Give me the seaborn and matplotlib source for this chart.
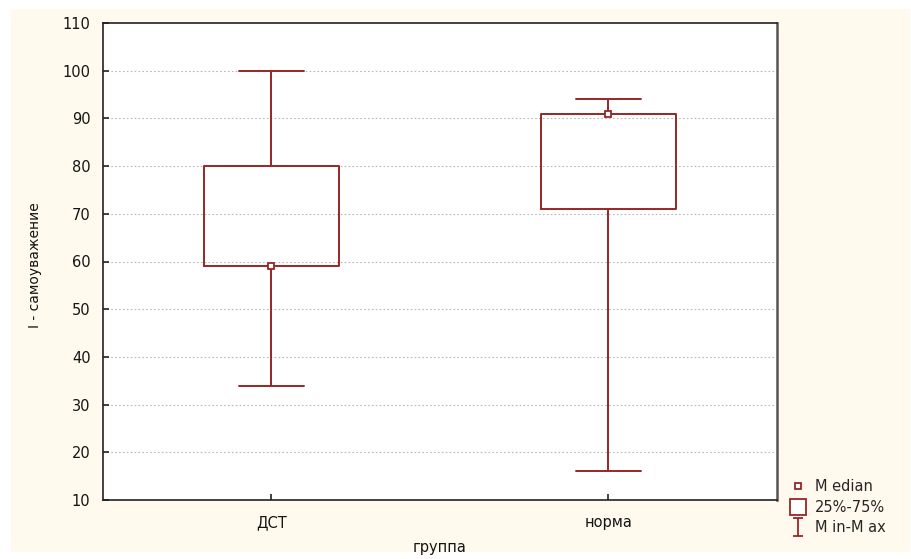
import matplotlib
matplotlib.use("Agg")
import matplotlib.pyplot as plt
import seaborn as sns
import pandas as pd
import numpy as np
from matplotlib.lines import Line2D
from matplotlib.patches import Rectangle
from matplotlib.path import Path

# Data: five-number summaries (min, q1, median, q3, max)
groups = ["ДСТ", "норма"]
dst_values = [34, 59, 59, 80, 100]
norma_values = [16, 71, 91, 91, 94]
y_ticks = [10, 20, 30, 40, 50, 60, 70, 80, 90, 100, 110]
legend_labels = ["M edian", "25%-75%", "M in-M ax"]

df = pd.DataFrame({
    "группа": [groups[0]] * len(dst_values) + [groups[1]] * len(norma_values),
    "value": dst_values + norma_values,
})

sns.set_style("white")
plt.rcParams["font.family"] = ["DejaVu Sans"]

RED = "#972626"
CREAM = "#fff9ee"
TXT = "#151515"

fig = plt.figure(figsize=(9.12, 5.59), dpi=100, facecolor="white")
bg = Rectangle((11 / 912, 1 - 552 / 559), 899 / 912, 543 / 559,
               transform=fig.transFigure, facecolor=CREAM, edgecolor="none")
bg.set_zorder(-10)
fig.add_artist(bg)
ax = fig.add_axes([103 / 912, 1 - 500 / 559, 674 / 912, 477 / 559])
ax.set_zorder(1)
ax.set_facecolor("white")

lw = 1.4
sns.boxplot(data=df, x="группа", y="value", order=groups, whis=(0, 100),
            width=0.4, fill=False, color=RED, linewidth=lw, ax=ax,
            showcaps=True,
            boxprops=dict(color=RED, linewidth=lw),
            whiskerprops=dict(color=RED, linewidth=lw),
            capprops=dict(color=RED, linewidth=lw),
            medianprops=dict(linewidth=0),
            flierprops=dict(marker=""))
# caps width
for line in ax.lines:
    xd = np.asarray(line.get_xdata(), dtype=float)
    yd = np.asarray(line.get_ydata(), dtype=float)
    if len(xd) == 2 and yd[0] == yd[1] and abs(xd[1] - xd[0]) > 0 and abs(xd[1] - xd[0]) < 0.3:
        c = (xd[0] + xd[1]) / 2
        line.set_xdata([c - 0.097, c + 0.097])

sns.pointplot(data=df, x="группа", y="value", order=groups, estimator="median",
              errorbar=None, linestyle="none", marker="s", markersize=5,
              markerfacecolor="white", markeredgecolor=RED, markeredgewidth=1.3,
              color=RED, ax=ax, zorder=5)

ax.set_xlim(-0.5, 1.5)
ax.set_ylim(10, 110)
ax.set_yticks(y_ticks)
ax.set_yticklabels([str(t) for t in y_ticks], fontsize=10.5, color=TXT)
ax.set_xticks([0, 1])
ax.set_xticklabels(groups, fontsize=10.5, color=TXT)
ax.tick_params(axis="both", direction="in", length=4, width=1.2, color="#222222",
               left=True, bottom=True, pad=9)
ax.tick_params(axis="x", pad=11)

for yt in y_ticks[1:-1]:
    ax.axhline(yt, color="#b8b8b8", linestyle=(0, (1.5, 2)), linewidth=0.8, zorder=0)

for s in ax.spines.values():
    s.set_visible(True)
    s.set_color("#222222")
    s.set_linewidth(1.2)
ax.spines["right"].set_color("#555555")
ax.spines["right"].set_linewidth(1.8)

ax.set_xlabel("группа", fontsize=10.5, color=TXT)
ax.xaxis.set_label_coords(0.5, -(540 - 500) / 477)
ax.set_ylabel("I - самоуважение", fontsize=10, color=TXT)
ax.yaxis.set_label_coords(-(103 - 42) / 674, 0.493)

# legend
ipath = Path([(-0.5, -1), (0.5, -1), (0, -1), (0, 1), (-0.5, 1), (0.5, 1)],
             [Path.MOVETO, Path.LINETO, Path.MOVETO, Path.LINETO, Path.MOVETO, Path.LINETO])
h_med = Line2D([], [], linestyle="none", marker="s", markersize=5,
               markerfacecolor="white", markeredgecolor=RED, markeredgewidth=1.3)
h_box = Line2D([], [], linestyle="none", marker="s", markersize=12,
               markerfacecolor="white", markeredgecolor=RED, markeredgewidth=1.3)
h_mm = Line2D([], [], linestyle="none", marker=ipath, markersize=13,
              markerfacecolor="none", markeredgecolor=RED, markeredgewidth=1.3)
fig.legend([h_med, h_box, h_mm], legend_labels, loc="lower left",
           bbox_to_anchor=(782 / 912, 1 - 544 / 559), frameon=False,
           fontsize=10.5, handlelength=1.0, handletextpad=0.65, labelspacing=0.38,
           borderpad=0.1)

fig.savefig("out.png", dpi=100, facecolor="white")
